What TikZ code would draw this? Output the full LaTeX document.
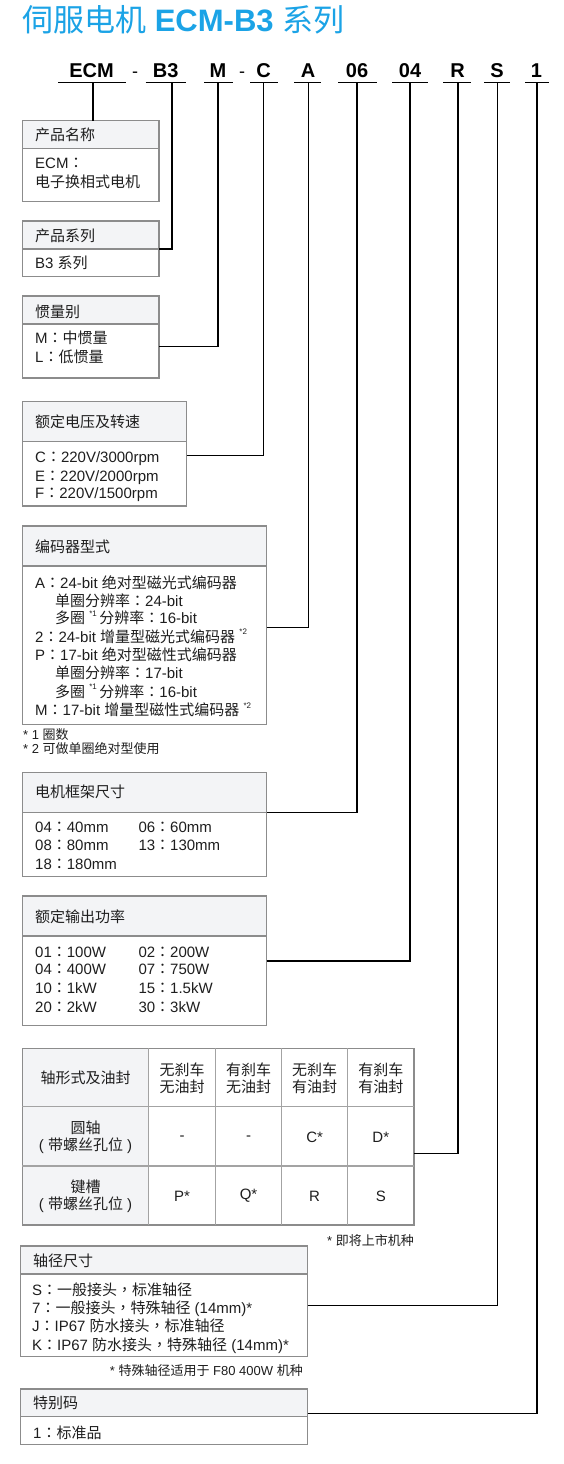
\documentclass[tikz,border=0pt]{standalone}
\usepackage{fontspec}
\setmainfont{Liberation Sans}
\newfontfamily\cjkf{Noto Sans CJK SC}
\newfontfamily\cjkt{Noto Sans CJK TC}
\newcommand\zh[1]{{\cjkf #1}}
\newcommand\cl{{\cjkt ：}}
\newcommand\cm{{\cjkt ，}}
\newcommand\supn[1]{\raisebox{0.5em}{\fontsize{8}{8}\selectfont #1}}
\definecolor{titleblue}{HTML}{1BA3E6}
\definecolor{boxgray}{HTML}{8C8C8C}
\definecolor{hdrfill}{HTML}{F3F4F6}
\definecolor{txt}{HTML}{1E1E1E}
\begin{document}
\begin{tikzpicture}[x=1pt,y=-1pt,
  boxst/.style={draw=boxgray, line width=1.2pt, fill=white, inner sep=0pt, outer sep=0pt, anchor=north west},
  hdrst/.style={draw=boxgray, line width=1.2pt, fill=hdrfill, inner sep=0pt, outer sep=0pt, anchor=north west},
  tx/.style={anchor=base west, inner sep=0pt, font=\fontsize{15}{18}\selectfont, text=txt},
  fn/.style={anchor=base west, inner sep=0pt, font=\fontsize{13}{15}\selectfont, text=txt},
  fnr/.style={anchor=base east, inner sep=0pt, font=\fontsize{13}{15}\selectfont, text=txt},
  tc/.style={anchor=center, inner sep=0pt, align=center, font=\fontsize{15}{16.7}\selectfont, text=txt},
  codest/.style={anchor=base, inner sep=0pt, font=\fontsize{20}{20}\selectfont\bfseries},
  dashst/.style={anchor=base, inner sep=0pt, font=\fontsize{18}{18}\selectfont},
  conn/.style={draw=black, line width=1.4pt},
  uline/.style={draw=black, line width=1.3pt},
  grid/.style={draw=boxgray!80, line width=1.1pt}
]
\useasboundingbox (0,0) rectangle (564,1464);
\fill[white] (0,0) rectangle (564,1464);

% title
\node[anchor=base west, inner sep=0pt, text=titleblue, font=\fontsize{31}{31}\selectfont] (title) at (22,32)
  {\zh{伺服电机} {\bfseries ECM-B3} \zh{系列}};

% code row
\node[codest] (cECM) at (91.5,77.3) {ECM};
\node[dashst] (d1) at (135,77.3) {-};
\node[codest] (cB3) at (165.6,77.3) {B3};
\node[codest] (cM) at (218,77.3) {M};
\node[dashst] (d2) at (242,77.3) {-};
\node[codest] (cC) at (263.5,77.3) {C};
\node[codest] (cA) at (308,77.3) {A};
\node[codest] (c06) at (357,77.3) {06};
\node[codest] (c04) at (410,77.3) {04};
\node[codest] (cR) at (457.6,77.3) {R};
\node[codest] (cS) at (497,77.3) {S};
\node[codest] (c1) at (536.5,77.3) {1};
\draw[uline] (58,82.7) -- (126,82.7);
\draw[uline] (145.5,82.7) -- (186,82.7);
\draw[uline] (204,82.7) -- (233,82.7);
\draw[uline] (250,82.7) -- (278,82.7);
\draw[uline] (294,82.7) -- (321,82.7);
\draw[uline] (338,82.7) -- (377,82.7);
\draw[uline] (392,82.7) -- (428,82.7);
\draw[uline] (443,82.7) -- (471,82.7);
\draw[uline] (484,82.7) -- (510,82.7);
\draw[uline] (525,82.7) -- (549,82.7);
\coordinate (tECM) at (93,82.7);
\coordinate (tB3) at (172,82.7);
\coordinate (tM) at (218,82.7);
\coordinate (tC) at (263.5,82.7);
\coordinate (tA) at (308.7,82.7);
\coordinate (t06) at (357,82.7);
\coordinate (t04) at (410,82.7);
\coordinate (tR) at (458,82.7);
\coordinate (tS) at (497.5,82.7);
\coordinate (t1) at (537,82.7);

% box 1
\node[boxst, minimum width=136.7pt, minimum height=81pt] (b1) at (22.3,120.7) {};
\node[hdrst, minimum width=136.7pt, minimum height=27.6pt] (b1h) at (22.3,120.7) {};
\node[tx] (b1t) at (35,140.5) {\zh{产品名称}};
\node[tx] (b1a) at (35,168.2) {ECM\cl};
\node[tx] (b1b) at (35,187.2) {\zh{电子换相式电机}};

% box 2
\node[boxst, minimum width=136.7pt, minimum height=55.7pt] (b2) at (22.3,221) {};
\node[hdrst, minimum width=136.7pt, minimum height=28pt] (b2h) at (22.3,221) {};
\node[tx] (b2t) at (35,241.5) {\zh{产品系列}};
\node[tx] (b2a) at (35,268.8) {B3 \zh{系列}};

% box 3
\node[boxst, minimum width=136.7pt, minimum height=82pt] (b3) at (22.3,296) {};
\node[hdrst, minimum width=136.7pt, minimum height=28pt] (b3h) at (22.3,296) {};
\node[tx] (b3t) at (35,317.2) {\zh{惯量别}};
\node[tx] (b3a) at (35,343.8) {M\cl\zh{中惯量}};
\node[tx] (b3b) at (35,362.2) {L\cl\zh{低惯量}};

% box 4
\node[boxst, minimum width=164.4pt, minimum height=104.3pt] (b4) at (22.3,401.7) {};
\node[hdrst, minimum width=164.4pt, minimum height=40pt] (b4h) at (22.3,401.7) {};
\node[tx] (b4t) at (35,427.5) {\zh{额定电压及转速}};
\node[tx] (b4a) at (35,462.2) {C\cl 220V/3000rpm};
\node[tx] (b4b) at (35,481.2) {E\cl 220V/2000rpm};
\node[tx] (b4c) at (35,498.8) {F\cl 220V/1500rpm};

% box 5
\node[boxst, minimum width=244.4pt, minimum height=198.3pt] (b5) at (22.3,526) {};
\node[hdrst, minimum width=244.4pt, minimum height=40pt] (b5h) at (22.3,526) {};
\node[tx] (b5t) at (35,552.2) {\zh{编码器型式}};
\node[tx] (b5a) at (35,588.8) {A\cl 24-bit \zh{绝对型磁光式编码器}};
\node[tx] (b5b) at (55,606.2) {\zh{单圈分辨率}\cl 24-bit};
\node[tx] (b5c) at (55,623.8) {\zh{多圈} \supn{*1}\,\zh{分辨率}\cl 16-bit};
\node[tx] (b5d) at (35,642.2) {2\cl 24-bit \zh{增量型磁光式编码器} \supn{*2}};
\node[tx] (b5e) at (35,660.5) {P\cl 17-bit \zh{绝对型磁性式编码器}};
\node[tx] (b5f) at (55,678.8) {\zh{单圈分辨率}\cl 17-bit};
\node[tx] (b5g) at (55,697.2) {\zh{多圈} \supn{*1}\,\zh{分辨率}\cl 16-bit};
\node[tx] (b5h2) at (35,715.5) {M\cl 17-bit \zh{增量型磁性式编码器} \supn{*2}};
\node[fn] (f1) at (23,739.5) {* 1 \zh{圈数}};
\node[fn] (f2) at (23,753.2) {* 2 \zh{可做单圈绝对型使用}};

% box 6
\node[boxst, minimum width=244.4pt, minimum height=104pt] (b6) at (22.3,772.7) {};
\node[hdrst, minimum width=244.4pt, minimum height=39.6pt] (b6h) at (22.3,772.7) {};
\node[tx] (b6t) at (35,797.8) {\zh{电机框架尺寸}};
\node[tx] (b6a) at (35,832.8) {04\cl 40mm};
\node[tx] (b6b) at (138.3,832.8) {06\cl 60mm};
\node[tx] (b6c) at (35,850.5) {08\cl 80mm};
\node[tx] (b6d) at (138.3,850.5) {13\cl 130mm};
\node[tx] (b6e) at (35,869.5) {18\cl 180mm};

% box 7
\node[boxst, minimum width=244.4pt, minimum height=129.7pt] (b7) at (22.3,896) {};
\node[hdrst, minimum width=244.4pt, minimum height=40pt] (b7h) at (22.3,896) {};
\node[tx] (b7t) at (35,922.2) {\zh{额定输出功率}};
\node[tx] (b7a) at (35,957.2) {01\cl 100W};
\node[tx] (b7b) at (138.3,957.2) {02\cl 200W};
\node[tx] (b7c) at (35,974.8) {04\cl 400W};
\node[tx] (b7d) at (138.3,974.8) {07\cl 750W};
\node[tx] (b7e) at (35,993.8) {10\cl 1kW};
\node[tx] (b7f) at (138.3,993.8) {15\cl 1.5kW};
\node[tx] (b7g) at (35,1012.2) {20\cl 2kW};
\node[tx] (b7h2) at (138.3,1012.2) {30\cl 3kW};

% table
\fill[hdrfill] (22.4,1048.3) rectangle (148.7,1225);
\node[draw=boxgray, line width=1.2pt, inner sep=0pt, outer sep=0pt, anchor=north west,
  minimum width=391.6pt, minimum height=176.7pt] (tbl) at (22.4,1048.3) {};
\draw[grid] (148.7,1048.3) -- (148.7,1225);
\draw[grid] (215.5,1048.3) -- (215.5,1225);
\draw[grid] (281.6,1048.3) -- (281.6,1225);
\draw[grid] (347.6,1048.3) -- (347.6,1225);
\draw[grid] (22.4,1106.7) -- (414,1106.7);
\draw[grid] (22.4,1166) -- (414,1166);
\node[tc] (t11) at (85.5,1078) {\zh{轴形式及油封}};
\node[tc] (t12) at (182.1,1078) {\zh{无刹车}\\\zh{无油封}};
\node[tc] (t13) at (248.5,1078) {\zh{有刹车}\\\zh{无油封}};
\node[tc] (t14) at (314.6,1078) {\zh{无刹车}\\\zh{有油封}};
\node[tc] (t15) at (380.8,1078) {\zh{有刹车}\\\zh{有油封}};
\node[tc] (t21) at (85.5,1137) {\zh{圆轴}\\( \zh{带螺丝孔位} )};
\node[tc] (t22) at (182.1,1138) {-};
\node[tc] (t23) at (248.5,1138) {-};
\node[tc] (t24) at (314.6,1137) {C*};
\node[tc] (t25) at (380.8,1137) {D*};
\node[tc] (t31) at (85.5,1196) {\zh{键槽}\\( \zh{带螺丝孔位} )};
\node[tc] (t32) at (182.1,1196) {P*};
\node[tc] (t33) at (248.5,1196) {Q*};
\node[tc] (t34) at (314.6,1196) {R};
\node[tc] (t35) at (380.8,1196) {S};
\node[fnr] (f3) at (414,1245.5) {* \zh{即将上市机种}};

% box 8
\node[boxst, minimum width=287pt, minimum height=110.7pt] (b8) at (20.6,1246) {};
\node[hdrst, minimum width=287pt, minimum height=28pt] (b8h) at (20.6,1246) {};
\node[tx] (b8t) at (33,1266.2) {\zh{轴径尺寸}};
\node[tx] (b8a) at (32,1295.5) {S\cl\zh{一般接头}\cm\zh{标准轴径}};
\node[tx] (b8b) at (32,1313.8) {7\cl\zh{一般接头}\cm\zh{特殊轴径} (14mm)*};
\node[tx] (b8c) at (32,1331.5) {J\cl IP67 \zh{防水接头}\cm\zh{标准轴径}};
\node[tx] (b8d) at (32,1350.5) {K\cl IP67 \zh{防水接头}\cm\zh{特殊轴径} (14mm)*};
\node[fnr] (f4) at (303,1375) {* \zh{特殊轴径适用于} F80 400W \zh{机种}};

% box 9
\node[boxst, minimum width=287pt, minimum height=55.3pt] (b9) at (20.6,1389) {};
\node[hdrst, minimum width=287pt, minimum height=27.7pt] (b9h) at (20.6,1389) {};
\node[tx] (b9t) at (33,1408.8) {\zh{特别码}};
\node[tx] (b9a) at (33,1438.2) {1\cl\zh{标准品}};

% connectors
\coordinate (yM) at (0,346.7);
\coordinate (yC) at (0,455.7);
\coordinate (yA) at (0,627.7);
\coordinate (y04) at (0,961);
\coordinate (yR) at (0,1153.3);
\coordinate (yS) at (0,1305.7);
\coordinate (y1) at (0,1413.3);
\draw[conn] (tECM) -- (b1.north -| tECM);
\draw[conn] (b2h.south east) -| (tB3);
\draw[conn] (b3.east |- yM) -| (tM);
\draw[conn] (b4.east |- yC) -| (tC);
\draw[conn] (b5.east |- yA) -| (tA);
\draw[conn] (b6h.south east) -| (t06);
\draw[conn] (b7.east |- y04) -| (t04);
\draw[conn] (tbl.east |- yR) -| (tR);
\draw[conn] (b8.east |- yS) -| (tS);
\draw[conn] (b9.east |- y1) -| (t1);
\end{tikzpicture}
\end{document}
